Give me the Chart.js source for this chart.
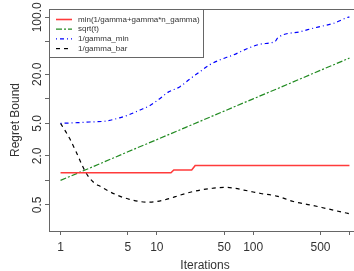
<!DOCTYPE html>
<html>
<head>
<meta charset="utf-8">
<script src="https://cdn.jsdelivr.net/npm/chart.js"></script>
<style>
  html, body { margin: 0; padding: 0; background: #fff; overflow: hidden; }
  #wrap { width: 354px; height: 271px; overflow: hidden; }
</style>
</head>
<body>
<div id="wrap"><canvas id="regretChart" width="361" height="271"></canvas></div>
<script>
// values (log-log axes)
const minX = [1, 14, 15, 23, 25, 1000];
const minY = [1.24, 1.24, 1.34, 1.34, 1.52, 1.52];

const sqrtX = [1, 2, 5, 10, 20, 50, 100, 200, 500, 1000];
const sqrtY = [1, 1.41, 2.24, 3.16, 4.47, 7.07, 10, 14.1, 22.4, 31.6];

const gammaMinX = [1, 1.5, 2, 3, 4.1, 5, 6.7, 8.5, 10.8, 13, 17.4, 22, 28, 35, 45, 62, 90, 120, 170, 180, 307, 450, 682, 940, 1000];
const gammaMinY = [5.0, 5.1, 5.2, 5.35, 5.85, 6.3, 7.3, 8.3, 10.1, 12, 14.1, 17.5, 21.5, 26, 30, 34.5, 42, 47, 51, 56, 66.6, 75, 84.4, 99, 101];

const gammaBarX = [1, 1.24, 1.45, 1.64, 1.85, 2.17, 2.64, 3.1, 4.1, 5.2, 6.9, 8.5, 10, 13.7, 17.5, 28, 38, 50, 60, 80, 100, 120, 176, 262, 390, 580, 900, 1000];
const gammaBarY = [5.0, 3.28, 2.24, 1.62, 1.22, 0.96, 0.83, 0.745, 0.64, 0.585, 0.546, 0.54, 0.55, 0.60, 0.66, 0.76, 0.80, 0.82, 0.81, 0.76, 0.72, 0.69, 0.64, 0.55, 0.50, 0.45, 0.40, 0.39];

const seriesNames = ["min(1/gamma+gamma*n_gamma)", "sqrt(t)", "1/gamma_min", "1/gamma_bar"];

const xTicks = [1, 5, 10, 50, 100, 500, 1000];
const xTickLabels = ["1", "5", "10", "50", "100", "500", ""];
const yTicks = [0.5, 1, 2, 5, 10, 20, 50, 100];
const yTickLabels = ["0.5", "", "2.0", "5.0", "", "20.0", "", "100.0"];

function pts(xs, ys) {
  return xs.map((x, i) => ({ x: x, y: ys[i] }));
}

Chart.defaults.font.family = "'Liberation Sans', Arial, sans-serif";
Chart.defaults.font.size = 12;
Chart.defaults.color = "#333";

// R-style box round the plot and a legend in the top left corner
const boxAndLegend = {
  id: "boxAndLegend",
  afterDatasetsDraw(chart) {
    const ctx = chart.ctx;
    const a = chart.chartArea;
    ctx.save();
    ctx.strokeStyle = "#666";
    ctx.lineWidth = 1;
    ctx.strokeRect(a.left + 0.5, a.top + 0.5, a.right - a.left, a.bottom - a.top);

    // legend
    ctx.fillStyle = "#fff";
    ctx.fillRect(a.left + 0.5, a.top + 0.5, 154, 48);
    ctx.strokeRect(a.left + 0.5, a.top + 0.5, 154, 48);
    ctx.font = "8px 'Liberation Sans', Arial, sans-serif";
    ctx.textBaseline = "middle";
    ctx.textAlign = "left";
    chart.data.datasets.forEach((ds, i) => {
      const y = a.top + 10.5 + i * 9.7;
      ctx.beginPath();
      ctx.setLineDash(ds.borderDash || []);
      ctx.strokeStyle = ds.borderColor;
      ctx.lineWidth = ds.borderWidth;
      ctx.moveTo(a.left + 7, y);
      ctx.lineTo(a.left + 23, y);
      ctx.stroke();
      ctx.setLineDash([]);
      ctx.fillStyle = "#333";
      ctx.fillText(ds.label, a.left + 29, y);
    });
    ctx.restore();
  }
};

new Chart(document.getElementById("regretChart").getContext("2d"), {
  type: "line",
  data: {
    datasets: [
      {
        label: seriesNames[0],
        data: pts(minX, minY),
        borderColor: "#ff3b3b",
        borderWidth: 1.6,
        tension: 0,
      },
      {
        label: seriesNames[1],
        data: pts(sqrtX, sqrtY),
        borderColor: "#228b22",
        borderWidth: 1.2,
        borderDash: [6, 2, 2, 2],
        tension: 0,
      },
      {
        label: seriesNames[2],
        data: pts(gammaMinX, gammaMinY),
        borderColor: "#0000ff",
        borderWidth: 1.2,
        borderDash: [1, 3, 4, 3],
        cubicInterpolationMode: "monotone",
      },
      {
        label: seriesNames[3],
        data: pts(gammaBarX, gammaBarY),
        borderColor: "#000",
        borderWidth: 1.2,
        borderDash: [4, 4],
        cubicInterpolationMode: "monotone",
      },
    ],
  },
  options: {
    responsive: false,
    animation: false,
    layout: { padding: { top: 9, left: 0, right: 0, bottom: 0 } },
    elements: { point: { radius: 0 } },
    plugins: { legend: { display: false }, tooltip: { enabled: false } },
    scales: {
      x: {
        type: "logarithmic",
        min: 0.7586,
        max: 1318,
        bounds: "data",
        afterBuildTicks(scale) {
          scale.ticks = xTicks.map((v) => ({ value: v }));
        },
        afterFit(scale) {
          scale.height = 40;
        },
        ticks: {
          autoSkip: false,
          maxRotation: 0,
          padding: 5,
          callback: (v, i) => xTickLabels[i],
        },
        grid: { drawOnChartArea: false, tickLength: 4, color: "#666" },
        border: { color: "#666" },
        title: { display: true, text: "Iterations", padding: { top: 0, bottom: -2 } },
      },
      y: {
        type: "logarithmic",
        min: 0.239,
        max: 126.5,
        bounds: "data",
        afterBuildTicks(scale) {
          scale.ticks = yTicks.map((v) => ({ value: v }));
        },
        afterFit(scale) {
          scale.width = 49;
        },
        ticks: {
          autoSkip: false,
          minRotation: 90,
          maxRotation: 90,
          crossAlign: "center",
          padding: -8,
          callback: (v, i) => yTickLabels[i],
        },
        grid: { drawOnChartArea: false, tickLength: 4, color: "#666" },
        border: { color: "#666" },
        title: { display: true, text: "Regret Bound", padding: { top: 8, bottom: 0 } },
      },
    },
  },
  plugins: [boxAndLegend],
});
</script>
</body>
</html>
